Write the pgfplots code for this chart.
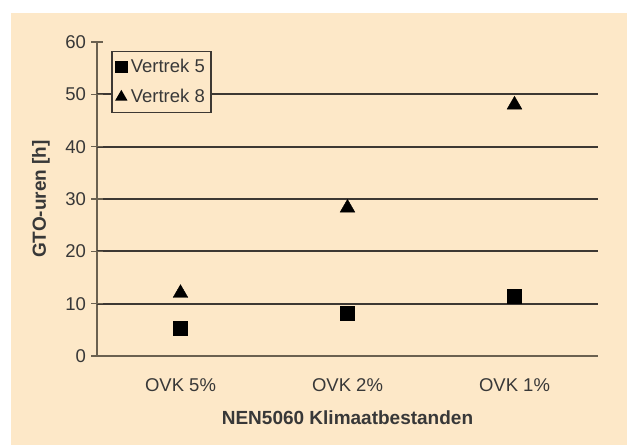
\documentclass[border=0pt]{standalone}
\usepackage{fontspec}
\setmainfont{Liberation Sans}
\usepackage{pgfplots}
\pgfplotsset{compat=1.18}
\usetikzlibrary{backgrounds}
\definecolor{bgc}{HTML}{FDE8C8}
\definecolor{axc}{HTML}{6B6150}
\definecolor{gridc}{HTML}{3D3833}
\definecolor{txtc}{HTML}{383838}

\begin{document}
\begin{tikzpicture}[x=1pt,y=1pt]
  \begin{axis}[
    scale only axis, width=501pt, height=314pt,
    xmin=-0.5, xmax=2.5, ymin=0, ymax=60,
    axis lines*=left,
    axis line style={axc, line width=2pt},
    xtick={0,1,2},
    xticklabels={OVK 5\%, OVK 2\%, OVK 1\%},
    major x tick style={draw=none},
    extra x ticks={0.5,1.5,2.5},
    extra x tick labels={},
    extra x tick style={major tick length=11pt, tick align=center,
      tick style={axc, line width=1.5pt}},
    ytick={0,10,...,60},
    ytick style={axc, line width=1.6pt},
    major tick length=11pt, tick align=center,
    extra y ticks={10,20,...,50},
    extra y tick labels={},
    extra y tick style={grid=major, grid style={gridc, line width=2.2pt},
      major tick length=11pt, tick align=center},
    tick label style={font=\fontsize{18.5}{21}\selectfont, text=txtc},
    /pgf/number format/assume math mode=true,
    xticklabel style={anchor=center, yshift=-24pt},
    yticklabel style={anchor=east, xshift=-2pt},
    xlabel={NEN5060 Klimaatbestanden},
    xlabel style={font=\fontsize{19}{22}\selectfont\bfseries, text=txtc,
      at={(axis description cs:0.5,0)}, anchor=center, yshift=-62pt},
    ylabel={GTO-uren [h]},
    ylabel style={font=\fontsize{19}{22}\selectfont\bfseries, text=txtc,
      at={(axis description cs:0,0.5)}, anchor=center, yshift=56pt},
    legend style={at={(0.028,0.972)}, anchor=north west,
      fill=bgc, draw=gridc, line width=1.6pt,
      font=\fontsize{18.5}{21}\selectfont, text=txtc,
      inner xsep=4pt, inner ysep=6pt, row sep=11pt, column sep=2pt},
    legend cell align=left,
    legend image post style={mark size=5.5pt},
    clip=false,
  ]
    \coordinate (O) at (axis cs:-0.5,0);
    \addplot[only marks, mark=square*, mark size=7pt, black]
      coordinates {(0,5.3) (1,8.1) (2,11.4)};
    \addlegendentry{Vertrek 5}
    \addplot[only marks, mark=triangle*, mark size=8.5pt, black]
      coordinates {(0,12.0) (1,28.3) (2,48.0)};
    \addlegendentry{Vertrek 8}
  \end{axis}
  \begin{pgfonlayer}{background}
    \fill[white] ([shift={(-97,-89)}]O) rectangle ([shift={(530,356)}]O);
    \fill[bgc] ([shift={(-86,-89)}]O) rectangle ([shift={(530,343)}]O);
  \end{pgfonlayer}
  \pgfresetboundingbox
  \path[use as bounding box] ([shift={(-97,-89)}]O) rectangle ([shift={(530,356)}]O);
\end{tikzpicture}
\end{document}
